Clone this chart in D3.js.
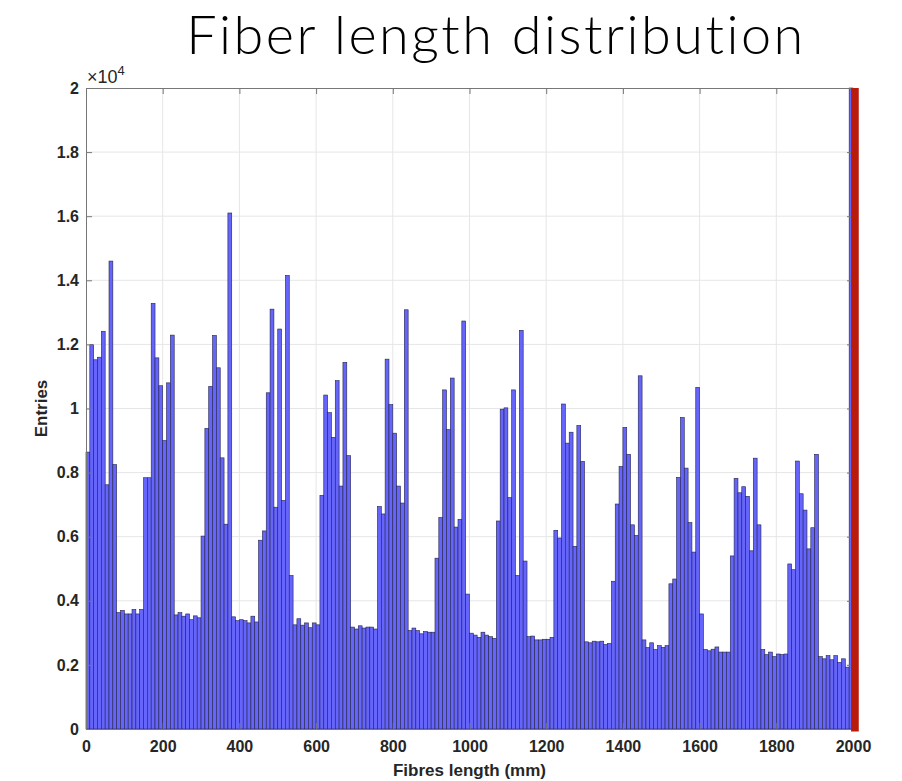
<!DOCTYPE html>
<html>
<head>
<meta charset="utf-8">
<script src="https://cdn.jsdelivr.net/npm/d3@7/dist/d3.min.js"></script>
<style>
  body { margin: 0; background: #fff; }
  text { font-family: "Liberation Sans", Arial, Helvetica, sans-serif; fill: #262626; }
  text.title { font-family: Lato, "Open Sans", sans-serif; font-weight: 300; fill: #000; letter-spacing: 2.5px; }
</style>
</head>
<body>
<svg width="902" height="781"></svg>
<script>
// histogram of fibre lengths, 10 mm bins from 0 to 2000 mm
var binWidth = 10;
var entries = [
  8640, 11990, 11520, 11600, 12410, 7620, 14600, 8250, 3630, 3700,
  3590, 3590, 3730, 3590, 3730, 7840, 7840, 13280, 11580, 10710,
  9000, 10800, 12290, 3560, 3630, 3520, 3590, 3410, 3530, 3470,
  6020, 9380, 10690, 12280, 11270, 8460, 6390, 16100, 3500, 3380,
  3410, 3380, 3310, 3520, 3340, 5890, 6180, 10490, 13100, 6920,
  12480, 7130, 14150, 4790, 3250, 3440, 3240, 3310, 3160, 3310,
  3250, 7290, 10420, 9870, 9100, 10870, 7580, 11440, 8530, 3180,
  3120, 3220, 3150, 3180, 3180, 3120, 6940, 6710, 11540, 10120,
  9230, 7580, 7050, 13080, 3070, 3150, 3070, 2970, 3040, 3020,
  3020, 5330, 6600, 10580, 9340, 10950, 6300, 6540, 12730, 4210,
  2990, 2930, 2860, 3020, 2930, 2880, 2830, 6490, 9980, 10020,
  7220, 10580, 4790, 12440, 5240, 2880, 2900, 2780, 2780, 2800,
  2800, 2860, 6200, 5960, 10140, 8920, 9260, 5700, 9470, 8350,
  2720, 2690, 2740, 2720, 2740, 2640, 2670, 4610, 7020, 8190,
  9410, 8570, 6370, 6040, 11020, 2780, 2540, 2690, 2480, 2600,
  2550, 2600, 4530, 4680, 7850, 9720, 8140, 6440, 5520, 10660,
  3590, 2480, 2440, 2490, 2560, 2400, 2400, 2400, 5400, 7820,
  7370, 7560, 7260, 5560, 8450, 6370, 2480, 2320, 2400, 2260,
  2340, 2320, 2340, 5150, 4970, 8360, 7340, 6830, 5620, 6280,
  8570, 2260, 2190, 2290, 2160, 2290, 2080, 2190, 1930, 30000
];
// red marker band at the end of the range (mm)
var cutBand = [1995, 2015];
var xTicks = [0, 200, 400, 600, 800, 1000, 1200, 1400, 1600, 1800, 2000];
var yTicks = [0, 2000, 4000, 6000, 8000, 10000, 12000, 14000, 16000, 18000, 20000];

var svg = d3.select("svg");
var plot = { left: 86, right: 853, top: 88, bottom: 729 };

var x = d3.scaleLinear().domain([0, 2000]).range([plot.left, plot.right]);
var y = d3.scaleLinear().domain([0, 20000]).range([plot.bottom, plot.top]).clamp(true);

// grid
svg.append("g").selectAll("line")
    .data(xTicks.slice(1, -1))
    .enter().append("line")
    .attr("x1", function (d) { return x(d); })
    .attr("x2", function (d) { return x(d); })
    .attr("y1", plot.top).attr("y2", plot.bottom)
    .attr("stroke", "#e6e6e6").attr("stroke-width", 1);

svg.append("g").selectAll("line")
    .data(yTicks.slice(1, -1))
    .enter().append("line")
    .attr("y1", function (d) { return y(d); })
    .attr("y2", function (d) { return y(d); })
    .attr("x1", plot.left).attr("x2", plot.right)
    .attr("stroke", "#e6e6e6").attr("stroke-width", 1);

// bars
svg.append("g").selectAll("rect")
    .data(entries)
    .enter().append("rect")
    .attr("x", function (d, i) { return x(i * binWidth); })
    .attr("width", function (d, i) { return x((i + 1) * binWidth) - x(i * binWidth); })
    .attr("y", function (d) { return y(d); })
    .attr("height", function (d) { return y(0) - y(d); })
    .attr("fill", "#6565fb")
    .attr("stroke", "#23234a")
    .attr("stroke-width", 0.6);

// axes
var fmt = function (d) { return String(+(d / 10000).toFixed(1)); };
var tickLen = 6;

var gx = svg.append("g").attr("transform", "translate(0," + plot.bottom + ")")
    .call(d3.axisBottom(x).tickValues(xTicks).tickFormat(d3.format("d")).tickSize(-tickLen).tickPadding(12).tickSizeOuter(0));
var gy = svg.append("g").attr("transform", "translate(" + plot.left + ",0)")
    .call(d3.axisLeft(y).tickValues(yTicks).tickFormat(fmt).tickSize(-tickLen).tickPadding(7).tickSizeOuter(0));
var gx2 = svg.append("g").attr("transform", "translate(0," + plot.top + ")")
    .call(d3.axisTop(x).tickValues(xTicks).tickSize(-tickLen).tickFormat("").tickSizeOuter(0));
var gy2 = svg.append("g").attr("transform", "translate(" + plot.right + ",0)")
    .call(d3.axisRight(y).tickValues(yTicks).tickSize(-tickLen).tickFormat("").tickSizeOuter(0));

[gx, gy, gx2, gy2].forEach(function (g) {
    g.select(".domain").attr("stroke", "#777").attr("stroke-width", 1);
    g.selectAll(".tick line").attr("stroke", "#777");
    g.selectAll("text").attr("font-size", 16).attr("font-weight", "bold");
});

// red band at the cut
svg.append("rect")
    .attr("x", x(cutBand[0]))
    .attr("width", x(cutBand[1]) - x(cutBand[0]))
    .attr("y", y(20000))
    .attr("height", y(0) - y(20000) + 2.5)
    .attr("fill", "#b81a0c");

// exponent label
var ex = svg.append("text").attr("x", plot.left + 1).attr("y", plot.top - 5).attr("font-size", 18);
ex.append("tspan").text("\u00d710");
ex.append("tspan").attr("font-size", 13).attr("dy", -8).text("4");

// labels
svg.append("text")
    .attr("x", (plot.left + plot.right) / 2).attr("y", 776)
    .attr("text-anchor", "middle").attr("font-size", 17).attr("font-weight", "bold")
    .text("Fibres length (mm)");

svg.append("text")
    .attr("transform", "translate(47," + (plot.top + plot.bottom) / 2 + ") rotate(-90)")
    .attr("text-anchor", "middle").attr("font-size", 17).attr("font-weight", "bold")
    .text("Entries");

svg.append("text")
    .attr("class", "title")
    .attr("x", 496).attr("y", 54)
    .attr("text-anchor", "middle")
    .attr("font-size", 54)
    .text("Fiber length distribution");
</script>
</body>
</html>
